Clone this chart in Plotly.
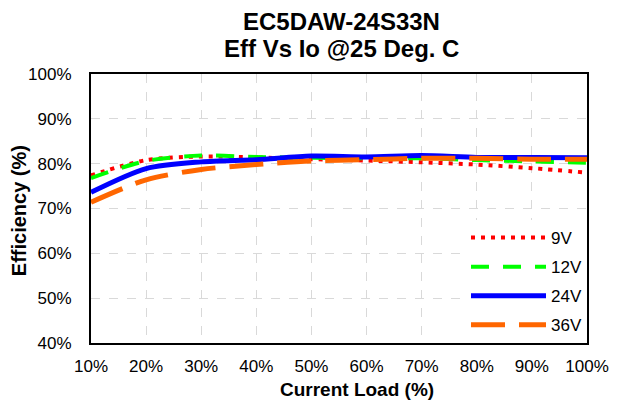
import plotly.graph_objects as go

load = [10, 20, 30, 40, 50, 60, 70, 80, 90, 100]
eff_9v = [77.4, 80.8, 81.6, 81.4, 81.0, 80.7, 80.3, 79.8, 79.0, 78.0]
eff_12v = [76.8, 80.6, 81.8, 81.5, 81.3, 81.2, 81.2, 80.8, 80.5, 80.2]
eff_24v = [73.6, 78.9, 80.4, 80.9, 81.7, 81.5, 81.8, 81.4, 81.4, 81.3]
eff_36v = [71.4, 76.4, 78.7, 79.8, 80.6, 80.9, 81.2, 81.2, 81.0, 81.0]

x_ticks = [10, 20, 30, 40, 50, 60, 70, 80, 90, 100]
y_ticks = [40, 50, 60, 70, 80, 90, 100]

series = [
    ("9V", eff_9v, "#ff0000", "4px,6px", 4),
    ("12V", eff_12v, "#00ff00", "18px,14px", 4),
    ("24V", eff_24v, "#0000ff", "solid", 5),
    ("36V", eff_36v, "#ff6600", "34px,14px", 5),
]

fig = go.Figure()
for name, vals, color, dash, w in series:
    fig.add_trace(go.Scatter(
        x=load, y=vals, name=name, mode="lines", legendgroup=name,
        line=dict(color=color, dash=dash, width=w, shape="spline", smoothing=0.8),
    ))

font = "Liberation Sans, Arial, sans-serif"
fig.update_layout(
    width=613, height=392,
    margin=dict(l=83, r=25, t=66, b=57),
    paper_bgcolor="white", plot_bgcolor="white",
    font=dict(family=font, size=17, color="black"),
    xaxis=dict(
        range=[10, 100], tickvals=x_ticks,
        ticktext=[f"{v}%" for v in x_ticks],
        showgrid=True, gridcolor="#d9d9d9", griddash="dash", gridwidth=1,
        showline=True, linecolor="black", linewidth=2, mirror=True,
        ticks="", zeroline=False, ticklabelstandoff=7,
        tickfont=dict(size=17),
    ),
    yaxis=dict(
        range=[40, 100], tickvals=y_ticks,
        ticktext=[f"{v}%" for v in y_ticks],
        showgrid=True, gridcolor="#d9d9d9", griddash="dash", gridwidth=1,
        showline=True, linecolor="black", linewidth=2, mirror=True,
        ticks="", zeroline=False, ticklabelstandoff=14,
        tickfont=dict(size=17),
    ),
    legend=dict(
        x=1, y=0, xanchor="right", yanchor="bottom",
        bgcolor="white", borderwidth=0,
        font=dict(size=17), itemwidth=75,
        tracegroupgap=4,
    ),
    showlegend=True,
    annotations=[
        dict(text="<b>EC5DAW-24S33N</b>", xref="paper", yref="paper",
             x=0.505, y=1.195, xanchor="center", yanchor="middle",
             showarrow=False, font=dict(size=24)),
        dict(text="<b>Eff Vs Io @25 Deg. C</b>", xref="paper", yref="paper",
             x=0.505, y=1.093, xanchor="center", yanchor="middle",
             showarrow=False, font=dict(size=24)),
        dict(text="<b>Efficiency (%)</b>", xref="paper", yref="paper",
             x=-0.1446, y=0.491, xanchor="center", yanchor="middle",
             textangle=-90, showarrow=False, font=dict(size=20)),
        dict(text="<b>Current Load (%)</b>", xref="paper", yref="paper",
             x=0.536, y=-0.172, xanchor="center", yanchor="middle",
             showarrow=False, font=dict(size=19)),
    ],
)

fig.write_html("out.html")
